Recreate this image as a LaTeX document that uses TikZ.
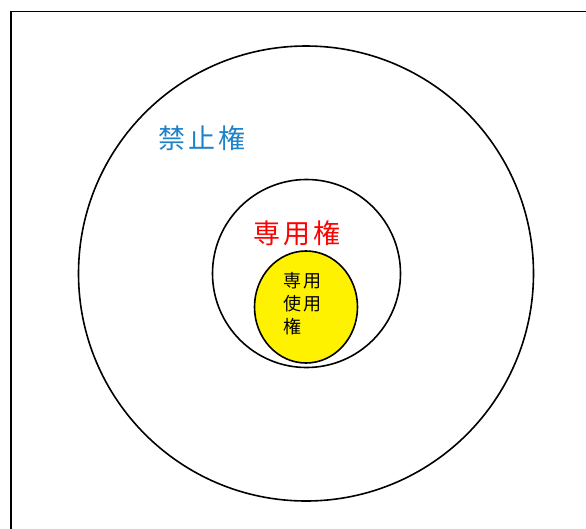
\documentclass[tikz,border=0pt]{standalone}
\usepackage{fontspec}
\usetikzlibrary{shapes.geometric}
\setmainfont{Noto Sans CJK JP}
\definecolor{kinshi}{RGB}{30,130,200}
\definecolor{senred}{RGB}{255,0,0}
\tikzset{
  ring/.style={draw=black, line width=1.6pt},
  label/.style={inner sep=0pt, font=\fontsize{27}{30}\selectfont},
}
\begin{document}
\begin{tikzpicture}[x=1pt,y=-1pt]
\useasboundingbox (0,0) rectangle (586,528);
\fill[white] (0,0) rectangle (586,528);
\draw[line width=1.6pt] (11,600) -- (11,11.5) -- (640,11.5);
\node[ring, circle, minimum size=455pt, inner sep=0pt] (outer) at (306,273.5) {};
\node[ring, circle, minimum size=188pt, inner sep=0pt] (middle) at (306.5,273.5) {};
\node[ring, ellipse, fill=yellow, minimum width=103pt, minimum height=112pt, inner sep=0pt] (inner) at (306,307) {};
\node[label, text=kinshi] (kinshi) at (202,138) {禁\hspace{3pt}止\hspace{3pt}権};
\node[label, text=senred] (senyo) at (297,233) {専\hspace{3pt}用\hspace{3pt}権};
\node[inner sep=0pt, align=left, font=\fontsize{18}{23}\selectfont] (tsujo) at (302,304) {専\hspace{2pt}用\\使\hspace{2pt}用\\権};
\end{tikzpicture}
\end{document}
